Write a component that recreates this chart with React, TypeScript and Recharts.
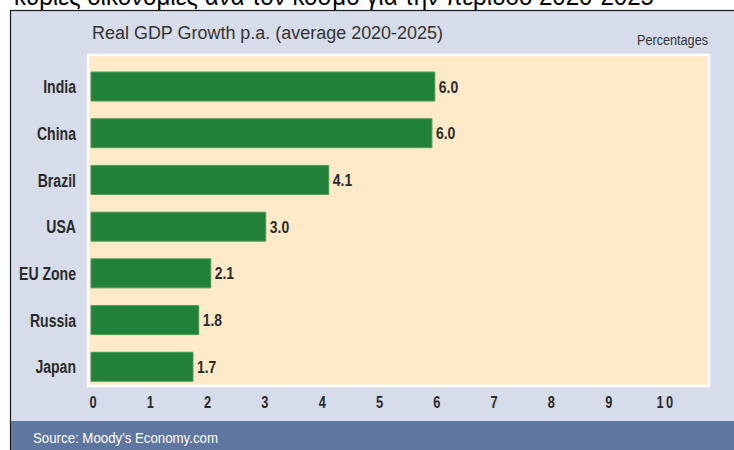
import React from "react"
import { BarChart, Bar, XAxis, YAxis, LabelList } from "recharts"

const categories = ["India", "China", "Brazil", "USA", "EU Zone", "Russia", "Japan"]
// bar lengths (percent)
const growth = [6.0, 5.95, 4.15, 3.05, 2.09, 1.88, 1.78]
const valueLabels = ["6.0", "6.0", "4.1", "3.0", "2.1", "1.8", "1.7"]
const xTicks = [0, 1, 2, 3, 4, 5, 6, 7, 8, 9, 10]

const headline = "κύριες οικονομίες ανά τον κόσμο για την περίοδο 2020-2025"
const title = "Real GDP Growth p.a. (average 2020-2025)"
const unitNote = "Percentages"
const source = "Source: Moody's Economy.com"

const data = categories.map((name, i) => ({ name, value: growth[i], label: valueLabels[i] }))

const FONT = "'Liberation Sans', Arial, sans-serif"
const INK = "#2a2a2a"

const CategoryTick = (props: any) => {
  const { y, payload } = props
  return (
    <g transform={`translate(76, ${y})`}>
      <text
        x={0}
        y={0}
        dy="0.36em"
        textAnchor="end"
        transform="scale(0.74,1)"
        fontFamily={FONT}
        fontWeight="bold"
        fontSize={19}
        fill={INK}
      >
        {payload.value}
      </text>
    </g>
  )
}

const ValueTick = (props: any) => {
  const { x, y, payload } = props
  return (
    <g transform={`translate(${x + 2}, ${y + 18})`}>
      <text
        x={0}
        y={0}
        textAnchor="middle"
        transform="scale(0.8,1)"
        fontFamily={FONT}
        fontWeight="bold"
        fontSize={16}
        letterSpacing={payload.value === 10 ? 3 : 0}
        fill={INK}
      >
        {payload.value}
      </text>
    </g>
  )
}

const BarValue = (props: any) => {
  const { x, y, width, height, value } = props
  return (
    <g transform={`translate(${x + width + 4}, ${y + height / 2})`}>
      <text
        x={0}
        y={0}
        dy="0.36em"
        transform="scale(0.82,1)"
        fontFamily={FONT}
        fontWeight="bold"
        fontSize={17}
        fill={INK}
      >
        {value}
      </text>
    </g>
  )
}

export default function App() {
  return (
    <div style={{ position: "absolute", left: 0, top: 0, width: 734, height: 450, background: "#fff", overflow: "hidden" }}>
      <svg width={734} height={450} style={{ position: "absolute", left: 0, top: 0 }}>
        <text x={14} y={5} fontFamily={FONT} fontSize={26} fill="#000" textLength={640} lengthAdjust="spacingAndGlyphs">
          {headline}
        </text>
        <rect x={10.5} y={10.5} width={740} height={450} fill="#d6dce9" stroke="#1a1a1a" strokeWidth={1.2} />
        <rect x={11} y={421} width={723} height={29} fill="#5e76a0" />
        <rect x={88} y={55} width={621} height={331} fill="#fee9c8" stroke="#ffffff" strokeWidth={2.5} />
        <text x={92} y={39} fontFamily={FONT} fontSize={18} fill="#333" textLength={351} lengthAdjust="spacingAndGlyphs">
          {title}
        </text>
        <text x={637} y={45} fontFamily={FONT} fontSize={14} fill="#333" textLength={71} lengthAdjust="spacingAndGlyphs">
          {unitNote}
        </text>
        <text x={33} y={443} fontFamily={FONT} fontSize={15} fill="#ffffff" textLength={185} lengthAdjust="spacingAndGlyphs">
          {source}
        </text>
      </svg>
      <div style={{ position: "absolute", left: 0, top: 0 }}>
        <BarChart
          width={734}
          height={450}
          data={data}
          layout="vertical"
          margin={{ top: 63, right: 70, bottom: 0, left: 0 }}
        >
          <XAxis
            type="number"
            domain={[0, 10]}
            ticks={xTicks}
            interval={0}
            height={60}
            axisLine={false}
            tickLine={false}
            tickSize={0}
            tickMargin={0}
            tick={<ValueTick />}
          />
          <YAxis
            type="category"
            dataKey="name"
            width={91}
            axisLine={false}
            tickLine={false}
            interval={0}
            tick={<CategoryTick />}
          />
          <Bar dataKey="value" fill="#21803a" stroke="#4c9c55" strokeWidth={1} barSize={29} isAnimationActive={false}>
            <LabelList dataKey="label" content={<BarValue />} />
          </Bar>
        </BarChart>
      </div>
    </div>
  )
}
